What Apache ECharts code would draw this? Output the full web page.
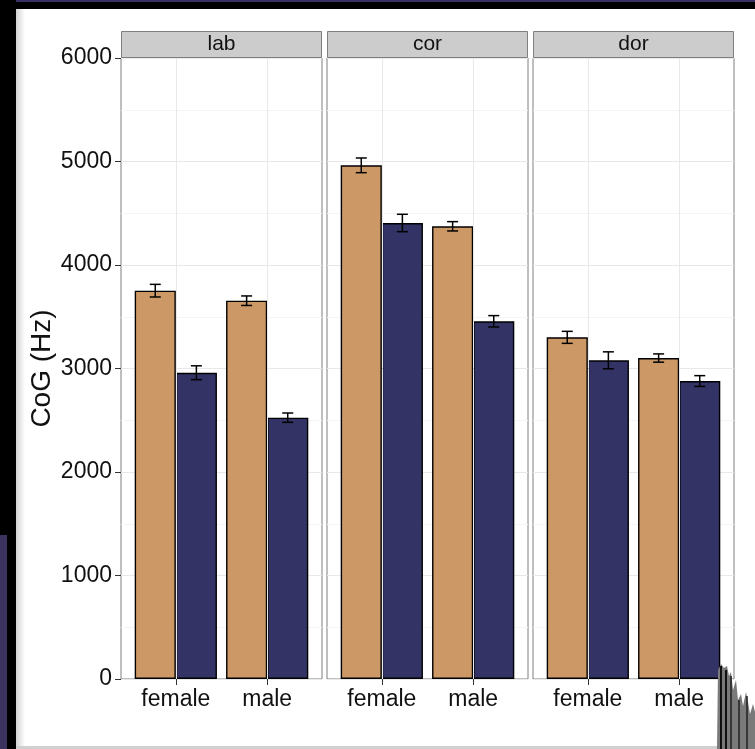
<!DOCTYPE html>
<html>
<head>
<meta charset="utf-8">
<script src="https://cdn.jsdelivr.net/npm/echarts@6/dist/echarts.min.js"></script>
<style>
  html, body { margin: 0; padding: 0; background: #ffffff; }
  #chart { width: 755px; height: 749px; }
</style>
</head>
<body>
<div id="chart"></div>
<script>
// Facet names, x categories and the y scale
const panelNames = ['lab', 'cor', 'dor'];
const sexes = ['female', 'male'];
const yMin = 0;
const yMax = 6000;
const yStep = 1000;

// Mean CoG (Hz) per facet, ordered female, male
const meanTan = [[3752, 3655], [4963, 4374], [3301, 3101]];
const meanNavy = [[2959, 2525], [4406, 3456], [3079, 2879]];
// Half-width of the error bars (Hz)
const errTan = [[61, 46], [71, 45], [58, 40]];
const errNavy = [[67, 45], [84, 55], [82, 52]];

const TAN = '#cc9966';
const NAVY = '#333366';
const FONT = 'Liberation Sans, Arial, Helvetica, sans-serif';

// Facet geometry
const panelLefts = [121, 327, 533];
const panelWidth = 201;
const panelTop = 58;
const panelHeight = 621;
const stripHeight = 27;
// A facet spans 2.2 category units (0.6 expansion on each side)
const unit = panelWidth / 2.2;
const innerOffset = 0.1 * unit;
const innerWidth = 2 * unit;

const chart = echarts.init(document.getElementById('chart'), null, { renderer: 'canvas' });

const grids = [];
const xAxes = [];
const yAxes = [];
const series = [];
const graphics = [];

panelNames.forEach((name, p) => {
  const left = panelLefts[p];
  // frame grid: border, horizontal grid lines, y axis
  grids.push({
    left: left, top: panelTop, width: panelWidth, height: panelHeight,
    show: true, backgroundColor: '#ffffff', borderColor: '#7f7f7f', borderWidth: 1
  });
  // data grid: the two category bands
  grids.push({
    left: left + innerOffset, top: panelTop, width: innerWidth, height: panelHeight,
    show: false
  });
  const gFrame = 2 * p, gData = 2 * p + 1;

  xAxes.push({
    gridIndex: gFrame, type: 'value', min: 0, max: 1, show: false
  });
  xAxes.push({
    gridIndex: gData, type: 'category', data: sexes,
    axisLine: { show: false },
    axisTick: { show: true, alignWithLabel: true, length: 6, lineStyle: { color: '#333333', width: 1 } },
    axisLabel: { color: '#111111', fontFamily: FONT, fontSize: 23, margin: 9 },
    splitLine: { show: false }
  });

  yAxes.push({
    gridIndex: gFrame, type: 'value', min: yMin, max: yMax, interval: yStep,
    axisLine: { show: false },
    axisTick: { show: p === 0, length: 6, lineStyle: { color: '#333333', width: 1 } },
    axisLabel: {
      show: p === 0, color: '#111111', fontFamily: FONT, fontSize: 23, margin: 9,
      formatter: v => String(v)
    },
    splitLine: { show: true, lineStyle: { color: '#e8e8e8', width: 1 } },
    minorTick: { show: false, splitNumber: 2 },
    minorSplitLine: { show: true, lineStyle: { color: '#f4f4f4', width: 1 } },
    name: p === 0 ? 'CoG (Hz)' : '',
    nameLocation: 'middle',
    nameGap: 65,
    nameTextStyle: { color: '#111111', fontFamily: FONT, fontSize: 28 }
  });
  yAxes.push({
    gridIndex: gData, type: 'value', min: yMin, max: yMax, interval: yStep, show: false
  });

  const xi = 2 * p + 1, yi = 2 * p + 1;

  // vertical grid lines at the category centres
  series.push({
    type: 'line', xAxisIndex: xi, yAxisIndex: yi, data: [], silent: true, z: 1,
    markLine: {
      silent: true, symbol: 'none', label: { show: false },
      lineStyle: { color: '#e8e8e8', width: 1, type: 'solid' },
      data: sexes.map(s => ({ xAxis: s }))
    }
  });

  series.push({
    name: 'tan', type: 'bar', xAxisIndex: xi, yAxisIndex: yi,
    data: meanTan[p], barWidth: '45%', barGap: '0%', z: 2,
    itemStyle: { color: TAN, borderColor: '#000000', borderWidth: 1.4 }
  });
  series.push({
    name: 'navy', type: 'bar', xAxisIndex: xi, yAxisIndex: yi,
    data: meanNavy[p], barWidth: '45%', barGap: '0%', z: 2,
    itemStyle: { color: NAVY, borderColor: '#000000', borderWidth: 1.4 }
  });

  // error bars, dodged onto each bar's centre
  const errData = [];
  sexes.forEach((s, i) => {
    errData.push([i, meanTan[p][i] - errTan[p][i], meanTan[p][i] + errTan[p][i], -0.225]);
    errData.push([i, meanNavy[p][i] - errNavy[p][i], meanNavy[p][i] + errNavy[p][i], 0.225]);
  });
  series.push({
    type: 'custom', xAxisIndex: xi, yAxisIndex: yi, z: 5, silent: true,
    data: errData,
    encode: { x: 0, y: [1, 2] },
    renderItem: function (params, api) {
      const idx = api.value(0);
      const lo = api.coord([idx, api.value(1)]);
      const hi = api.coord([idx, api.value(2)]);
      const band = api.size([1, 0])[0];
      const x = lo[0] + api.value(3) * band;
      const cap = 5.5;
      const style = { stroke: '#000000', lineWidth: 1.5 };
      return {
        type: 'group',
        children: [
          { type: 'line', shape: { x1: x, y1: lo[1], x2: x, y2: hi[1] }, style: style },
          { type: 'line', shape: { x1: x - cap, y1: lo[1], x2: x + cap, y2: lo[1] }, style: style },
          { type: 'line', shape: { x1: x - cap, y1: hi[1], x2: x + cap, y2: hi[1] }, style: style }
        ]
      };
    }
  });

  // facet strip
  graphics.push({
    type: 'rect', z: 10,
    shape: { x: left + 0.5, y: panelTop - stripHeight + 0.5, width: panelWidth - 1, height: stripHeight - 1 },
    style: { fill: '#cccccc', stroke: '#7f7f7f', lineWidth: 1 }
  });
  graphics.push({
    type: 'text', z: 11,
    x: left + panelWidth / 2, y: panelTop - stripHeight / 2,
    style: { text: name, fill: '#111111', font: '21px ' + FONT, textAlign: 'center', textVerticalAlign: 'middle' }
  });
});

// surrounding frame of the slide
graphics.push(
  { type: 'rect', z: 20, shape: { x: 0, y: 0, width: 755, height: 2 }, style: { fill: '#3a3162' } },
  { type: 'rect', z: 20, shape: { x: 0, y: 2, width: 755, height: 7 }, style: { fill: '#000000' } },
  { type: 'rect', z: 20, shape: { x: 0, y: 0, width: 16, height: 535 }, style: { fill: '#000000' } },
  { type: 'rect', z: 20, shape: { x: 0, y: 535, width: 7, height: 214 }, style: { fill: '#3b325f' } },
  { type: 'rect', z: 20, shape: { x: 7, y: 528, width: 9, height: 221 }, style: { fill: '#000000' } },
  {
    type: 'rect', z: 19, shape: { x: 16, y: 9, width: 9, height: 740 },
    style: {
      fill: new echarts.graphic.LinearGradient(0, 0, 1, 0, [
        { offset: 0, color: 'rgba(0,0,0,0.18)' },
        { offset: 1, color: 'rgba(0,0,0,0)' }
      ])
    }
  },
  { type: 'rect', z: 20, shape: { x: 16, y: 746, width: 739, height: 3 }, style: { fill: '#d0d0d0' } },
  {
    type: 'polygon', z: 21,
    shape: {
      points: [[717, 749], [718, 670], [721, 664], [724, 668], [727, 666], [729, 676], [731, 672],
               [733, 690], [736, 680], [738, 700], [741, 694], [743, 706], [746, 692], [748, 702],
               [750, 714], [753, 704], [755, 712], [755, 749]]
    },
    style: { fill: '#7a7a7a' }
  },
  { type: 'line', z: 22, shape: { x1: 721, y1: 666, x2: 721, y2: 749 }, style: { stroke: '#111111', lineWidth: 2 } },
  { type: 'line', z: 22, shape: { x1: 726, y1: 670, x2: 726, y2: 749 }, style: { stroke: '#111111', lineWidth: 2 } },
  { type: 'line', z: 22, shape: { x1: 731, y1: 676, x2: 731, y2: 749 }, style: { stroke: '#222222', lineWidth: 1.5 } },
  { type: 'line', z: 22, shape: { x1: 739, y1: 700, x2: 739, y2: 749 }, style: { stroke: '#222222', lineWidth: 1.5 } },
  { type: 'line', z: 22, shape: { x1: 747, y1: 696, x2: 747, y2: 749 }, style: { stroke: '#222222', lineWidth: 1.5 } }
);

chart.setOption({
  animation: false,
  backgroundColor: '#ffffff',
  grid: grids,
  xAxis: xAxes,
  yAxis: yAxes,
  series: series,
  graphic: graphics
});
</script>
</body>
</html>
